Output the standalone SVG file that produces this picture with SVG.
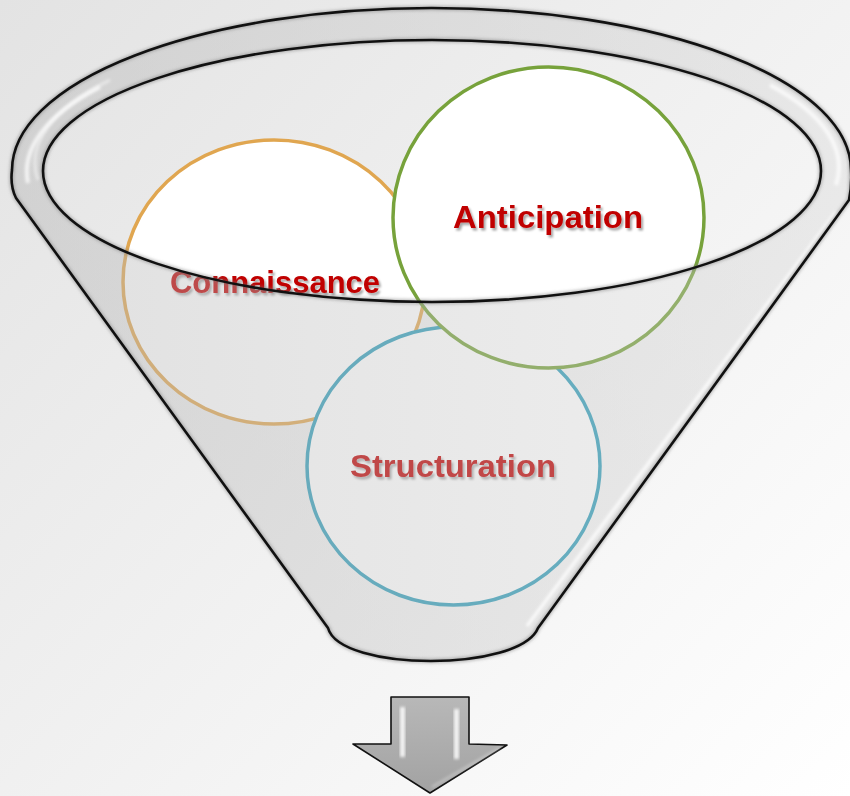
<svg xmlns="http://www.w3.org/2000/svg" width="850" height="796" viewBox="0 0 850 796">
<defs>
<linearGradient id="bg" x1="0" y1="0" x2="850" y2="796" gradientUnits="userSpaceOnUse">
<stop offset="0" stop-color="#e3e3e3"/>
<stop offset="1" stop-color="#ffffff"/>
</linearGradient>
<linearGradient id="glass" x1="0" y1="0" x2="850" y2="0" gradientUnits="userSpaceOnUse">
<stop offset="0" stop-color="#b4b4b4" stop-opacity="0.42"/>
<stop offset="0.6" stop-color="#c4c4c4" stop-opacity="0.36"/>
<stop offset="1" stop-color="#d0d0d0" stop-opacity="0.32"/>
</linearGradient>
<linearGradient id="arrowFill" x1="0" y1="697" x2="0" y2="793" gradientUnits="userSpaceOnUse">
<stop offset="0" stop-color="#b8b8b8"/>
<stop offset="1" stop-color="#a2a2a2"/>
</linearGradient>
<filter id="shadow" x="-10%" y="-30%" width="120%" height="160%">
<feDropShadow dx="2" dy="2.5" stdDeviation="1.3" flood-color="#000000" flood-opacity="0.35"/>
</filter>
<filter id="soft" x="-10%" y="-10%" width="120%" height="120%">
<feGaussianBlur stdDeviation="1.6"/>
</filter>
<filter id="halo" x="-5%" y="-5%" width="110%" height="110%">
<feGaussianBlur stdDeviation="1.5"/>
</filter>
<style>
.circ{fill:#ffffff;stroke-width:3.5}
.lbl{font-family:"Liberation Sans",Arial,sans-serif;font-weight:bold;font-size:32px;fill:#c00000;text-anchor:middle}
.edge{fill:none;stroke:#111111;stroke-width:2.6;stroke-linejoin:round}
.halo{fill:none;stroke:#777777;stroke-opacity:0.45;stroke-width:5;filter:url(#halo)}
</style>
</defs>
<rect x="0" y="0" width="850" height="796" fill="url(#bg)"/>

<g id="node-connaissance">
<ellipse class="circ" cx="274" cy="282" rx="151" ry="142" stroke="#e0a650"/>
<text class="lbl" x="275" y="293" textLength="210" lengthAdjust="spacingAndGlyphs" filter="url(#shadow)">Connaissance</text>
</g>
<g id="node-structuration">
<ellipse class="circ" cx="453.5" cy="466" rx="146.5" ry="139" stroke="#329fbb"/>
<text class="lbl" x="453" y="477" textLength="206" lengthAdjust="spacingAndGlyphs" filter="url(#shadow)">Structuration</text>
</g>
<g id="node-anticipation">
<ellipse class="circ" cx="548.5" cy="217.5" rx="155.5" ry="150.5" stroke="#77a23b"/>
<text class="lbl" x="548" y="228" textLength="190" lengthAdjust="spacingAndGlyphs" filter="url(#shadow)">Anticipation</text>
</g>

<g id="funnel">
<path fill="url(#glass)" fill-rule="evenodd" d="M16,198 Q10,186 12,170 A419.5 162 0 0 1 851,170 Q852,186 849,200 L538,628 C520,672 340,672 328,628 Z M43,171 A389 131 0 1 0 821,171 A389 131 0 1 0 43,171 Z"/>
<path d="M100,87 A402 147 0 0 0 28,183" fill="none" stroke="#ffffff" stroke-opacity="0.75" stroke-width="4" filter="url(#soft)"/>
<path d="M110,80 A392 140 0 0 0 38,180" fill="none" stroke="#ffffff" stroke-opacity="0.5" stroke-width="3" filter="url(#soft)"/>
<path d="M770,85 A404 147 0 0 1 836,185" fill="none" stroke="#ffffff" stroke-opacity="0.75" stroke-width="4" filter="url(#soft)"/>
<path d="M836,212 L527,626" fill="none" stroke="#ffffff" stroke-opacity="0.85" stroke-width="3" filter="url(#soft)"/>
<path class="halo" d="M16,198 Q10,186 12,170 A419.5 162 0 0 1 851,170 Q852,186 849,200 L538,628 C520,672 340,672 328,628 Z"/>
<ellipse class="halo" cx="432" cy="171" rx="389" ry="131"/>
<path class="edge" d="M16,198 Q10,186 12,170 A419.5 162 0 0 1 851,170 Q852,186 849,200 L538,628 C520,672 340,672 328,628 Z"/>
<ellipse class="edge" cx="432" cy="171" rx="389" ry="131"/>
</g>

<g id="connectors">
<path d="M391,697 L469,697 L469,744 L507,745 L430,793 L353,744 L391,744 Z" fill="url(#arrowFill)" stroke="#111111" stroke-width="1.6" stroke-linejoin="round"/>
<rect x="400" y="707" width="5" height="50" fill="#ffffff" opacity="0.85" filter="url(#soft)"/>
<rect x="454" y="709" width="5" height="50" fill="#ffffff" opacity="0.85" filter="url(#soft)"/>
<path d="M432,787 L500,748" fill="none" stroke="#ffffff" stroke-opacity="0.4" stroke-width="2" filter="url(#soft)"/>
</g>
</svg>
